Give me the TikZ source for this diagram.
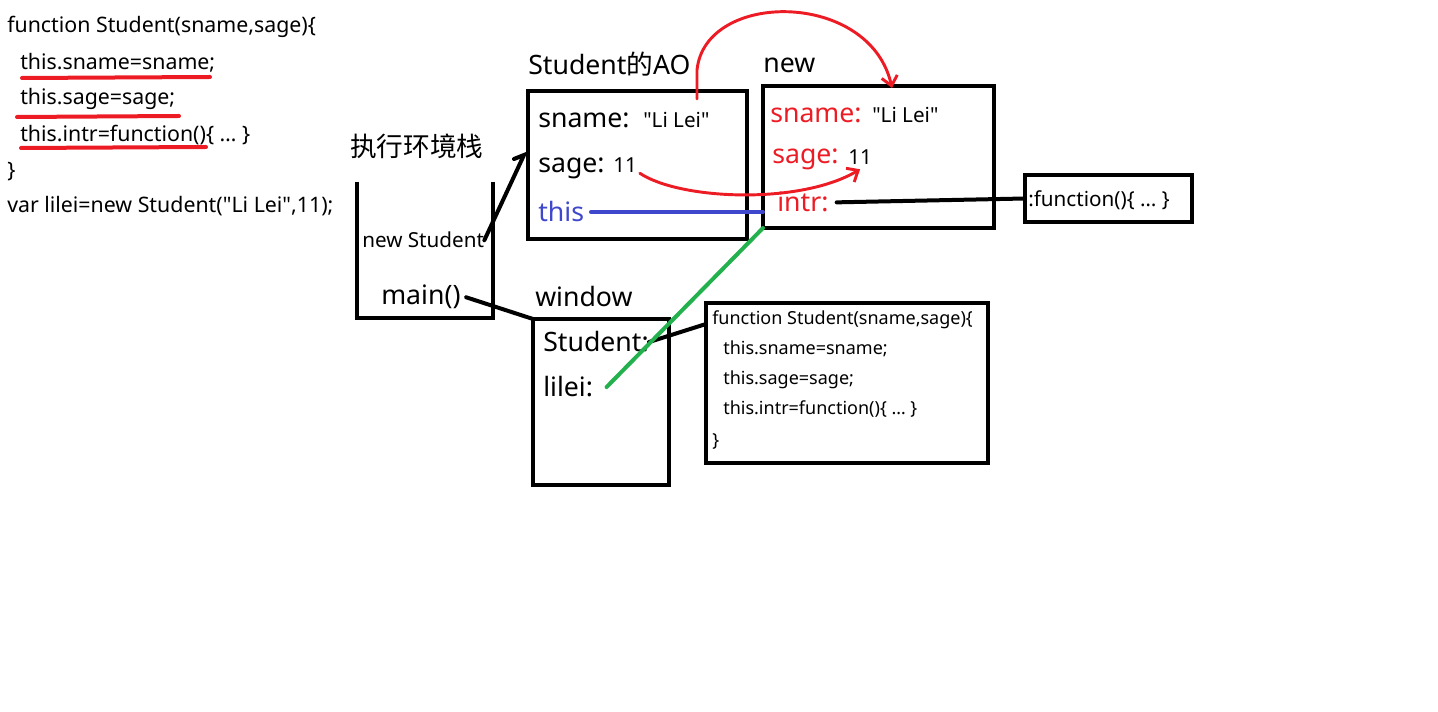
\documentclass[tikz,border=0pt]{standalone}
\usepackage{fontspec}
\setmainfont{Noto Sans}
\newfontfamily\cjk{Noto Sans CJK SC}
\usetikzlibrary{arrows.meta, positioning, calc}
\definecolor{paintred}{RGB}{237,28,36}
\definecolor{paintblue}{RGB}{63,72,204}
\definecolor{paintgreen}{RGB}{34,177,76}
\newcommand{\dq}{\textquotedbl}

\begin{document}
\begin{tikzpicture}[
        x=0.75pt, y=-0.75pt,
        frame/.style={rectangle, draw, line width=3.2pt, anchor=north west, inner sep=0pt, outer sep=0pt},
        bigtext/.style={anchor=base west, inner sep=0pt, font=\fontsize{20}{24}\selectfont},
        valtext/.style={anchor=base west, inner sep=0pt, font=\fontsize{15.5}{18}\selectfont},
        codetext/.style={anchor=base west, inner sep=0pt, font=\fontsize{16}{19}\selectfont},
        smallcode/.style={anchor=base west, inner sep=0pt, font=\fontsize{13.5}{16}\selectfont},
        link/.style={line width=3pt, line cap=round},
        redline/.style={paintred, line width=3pt, line cap=round},
        hand/.style={paintred, line width=2.2pt, line cap=round, -{Straight Barb[length=7pt, width=12pt]}}
    ]
        \useasboundingbox (0,0) rectangle (1438,712);

        % source code with underlines
        \node[codetext] (code1) at (7,33) {function Student(sname,sage)\{};
        \node[codetext] (code2) at (20,70) {this.sname=sname;};
        \node[codetext] (code3) at (20,105) {this.sage=sage;};
        \node[codetext] (code4) at (20,142) {this.intr=function()\{ … \}};
        \node[codetext] (code5) at (7,178) {\}};
        \node[codetext] (code6) at (7,213) {var lilei=new Student(\dq Li Lei\dq,11);};
        \draw[redline] (22,78) -- (210,77);
        \draw[redline] (17,117) -- (179,116);
        \draw[redline] (21,148) -- (206,147);

        % execution stack
        \node[bigtext] (stacklabel) at (350,157) {\cjk 执行环境栈};
        \draw[line width=3.2pt] (357,182) |- (493,318) -- (493,182);
        \node[valtext] (newst) at (362,248) {new Student};
        \node[bigtext] (mainfn) at (381,305) {main()};

        % activation object
        \node[bigtext] (aolabel) at (528,75) {Student{\cjk 的}AO};
        \node[frame, minimum width=164.25pt, minimum height=111pt] (ao) at (528,91) {};
        \node[bigtext] (aosname) at (538,128) {sname:};
        \node[valtext] (aosnameval) at (643,128) {\dq Li Lei\dq};
        \node[bigtext] (aosage) at (538,173) {sage:};
        \node[valtext] (aosageval) at (613,173) {11};
        \node[bigtext, paintblue] (aothis) at (538,222) {this};
        \coordinate (aoin) at (524,155);
        \coordinate (aosrc) at (697,99);

        % new object
        \node[bigtext] (newlabel) at (763,73) {new};
        \node[frame, minimum width=173.25pt, minimum height=106.5pt] (newobj) at (763,86) {};
        \node[bigtext, paintred] (newsname) at (770,123) {sname:};
        \node[valtext] (newsnameval) at (872,123) {\dq Li Lei\dq};
        \node[bigtext, paintred] (newsage) at (772,164) {sage:};
        \node[valtext] (newsageval) at (848,165) {11};
        \node[bigtext, paintred] (newintr) at (777,212) {intr:};
        \coordinate (newdst) at (892,88);
        \node[frame, minimum width=125.25pt, minimum height=35.25pt] (intrfn) at (1025,175) {};
        \node[valtext] (intrtext) at (1028,207) {:function()\{ … \}};

        % window object
        \node[bigtext] (winlabel) at (535,307) {window};
        \node[frame, minimum width=102pt, minimum height=124.5pt] (win) at (533,319) {};
        \node[bigtext] (winstudent) at (543,352) {Student:};
        \node[bigtext] (winlilei) at (543,397) {lilei:};
        \node[frame, minimum width=211.5pt, minimum height=120pt] (studentfn) at (706,303) {};
        \node[smallcode] (fn1) at (712,325) {function Student(sname,sage)\{};
        \node[smallcode] (fn2) at (723,355) {this.sname=sname;};
        \node[smallcode] (fn3) at (723,385) {this.sage=sage;};
        \node[smallcode] (fn4) at (723,415) {this.intr=function()\{ … \}};
        \node[smallcode] (fn5) at (712,447) {\}};

        % connectors
        \draw[link] (newst.east) -- (aoin) -- ++(-10,4);
        \draw[link] ([xshift=4pt]mainfn.east) -- (win.north west);
        \draw[link] (winstudent.east) -- ([yshift=-15.75pt]studentfn.north west);
        \draw[link] ([xshift=6pt]newintr.east) -- (intrfn.west);
        \draw[link, paintblue] ([xshift=5pt]aothis.east) -- (aothis.east -| newobj.west);
        \draw[link, paintgreen] ([xshift=10pt]winlilei.east) -- (newobj.south west);
        \draw[hand] (aosrc) -- (697,70) .. controls (705,-10) and (870,-10) .. (newdst);
        \draw[hand] ([xshift=2pt]aosageval.south east) .. controls (680,200) and (800,205) .. ([yshift=-3pt]newsageval.south);
    \end{tikzpicture}
\end{document}
